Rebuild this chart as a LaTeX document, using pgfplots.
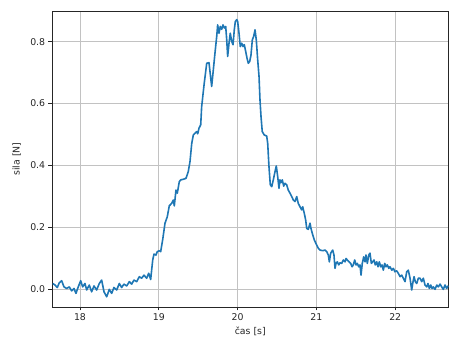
\documentclass[border=0pt]{standalone}
\usepackage{fontspec}
\setmainfont{DejaVu Sans}
\usepackage{pgfplots}
\usepackage{pgfplotstable}
\pgfplotsset{compat=1.18}
\definecolor{mplblue}{HTML}{1F77B4}
\pgfplotstableread{
x y
17.654 0.018
17.683 0.013
17.712 0.005
17.737 0.020
17.768 0.027
17.797 0.007
17.831 0.002
17.864 0.007
17.895 -0.006
17.924 0.002
17.949 -0.014
17.978 0.007
18.009 0.027
18.034 0.007
18.063 0.018
18.085 -0.003
18.118 0.013
18.148 -0.009
18.178 0.010
18.212 -0.003
18.245 0.018
18.275 0.029
18.305 -0.009
18.339 -0.025
18.372 -0.001
18.402 -0.014
18.431 0.005
18.466 -0.003
18.499 0.018
18.529 0.005
18.558 0.016
18.593 0.010
18.626 0.024
18.656 0.016
18.685 0.029
18.720 0.024
18.753 0.040
18.783 0.035
18.812 0.045
18.846 0.035
18.872 0.051
18.897 0.031
18.923 0.094
18.939 0.113
18.964 0.110
18.981 0.121
19.006 0.124
19.024 0.121
19.049 0.159
19.079 0.213
19.108 0.234
19.133 0.269
19.164 0.277
19.184 0.288
19.197 0.269
19.218 0.320
19.235 0.310
19.260 0.347
19.278 0.353
19.311 0.355
19.345 0.358
19.374 0.380
19.396 0.412
19.418 0.471
19.438 0.498
19.459 0.504
19.481 0.509
19.494 0.502
19.510 0.520
19.532 0.531
19.544 0.590
19.577 0.666
19.608 0.730
19.637 0.732
19.659 0.682
19.671 0.655
19.692 0.709
19.713 0.763
19.735 0.817
19.747 0.854
19.764 0.827
19.780 0.849
19.798 0.840
19.815 0.854
19.831 0.844
19.849 0.849
19.862 0.806
19.874 0.752
19.891 0.795
19.907 0.827
19.925 0.801
19.942 0.790
19.958 0.838
19.971 0.865
19.989 0.871
20.001 0.865
20.018 0.827
20.034 0.784
20.052 0.795
20.069 0.784
20.085 0.790
20.103 0.768
20.119 0.747
20.136 0.730
20.154 0.736
20.170 0.757
20.187 0.806
20.204 0.817
20.221 0.838
20.237 0.806
20.255 0.741
20.272 0.687
20.284 0.612
20.297 0.558
20.313 0.509
20.339 0.498
20.369 0.495
20.382 0.471
20.398 0.396
20.415 0.337
20.433 0.331
20.453 0.353
20.475 0.380
20.491 0.398
20.509 0.363
20.525 0.326
20.538 0.353
20.551 0.344
20.567 0.353
20.585 0.333
20.602 0.342
20.623 0.337
20.643 0.320
20.665 0.310
20.687 0.299
20.707 0.288
20.728 0.283
20.750 0.299
20.770 0.277
20.792 0.266
20.813 0.256
20.826 0.266
20.846 0.245
20.864 0.223
20.877 0.196
20.897 0.193
20.919 0.213
20.931 0.196
20.948 0.180
20.973 0.159
21.004 0.142
21.024 0.132
21.046 0.126
21.080 0.124
21.109 0.126
21.131 0.121
21.151 0.110
21.164 0.088
21.181 0.116
21.207 0.126
21.223 0.110
21.236 0.067
21.249 0.083
21.265 0.088
21.283 0.078
21.299 0.085
21.321 0.083
21.341 0.094
21.363 0.088
21.376 0.099
21.392 0.094
21.414 0.088
21.435 0.083
21.452 0.072
21.468 0.078
21.486 0.094
21.503 0.078
21.519 0.083
21.537 0.072
21.553 0.078
21.566 0.045
21.582 0.083
21.600 0.104
21.617 0.088
21.629 0.110
21.646 0.083
21.664 0.110
21.680 0.116
21.697 0.083
21.714 0.088
21.731 0.094
21.747 0.078
21.765 0.088
21.782 0.072
21.798 0.088
21.816 0.072
21.832 0.078
21.849 0.061
21.867 0.083
21.883 0.072
21.900 0.078
21.918 0.067
21.934 0.072
21.956 0.061
21.976 0.067
21.997 0.056
22.019 0.059
22.039 0.051
22.061 0.040
22.082 0.045
22.103 0.035
22.124 0.024
22.146 0.056
22.166 0.061
22.188 0.035
22.209 -0.003
22.222 0.018
22.239 0.040
22.255 0.024
22.273 0.018
22.293 0.035
22.315 0.035
22.336 0.024
22.357 0.035
22.378 0.013
22.400 0.007
22.416 0.018
22.433 0.002
22.451 0.013
22.467 0.002
22.484 0.007
22.505 -0.001
22.527 0.013
22.547 0.007
22.569 0.016
22.590 0.007
22.610 -0.001
22.632 0.013
22.653 0.002
22.674 0.011
}\forcedata
\begin{document}
\fontsize{9.4}{11}\selectfont
\begin{tikzpicture}
\begin{axis}[
  scale only axis, width=396.5bp, height=296bp,
  xmin=17.645, xmax=22.676, ymin=-0.058, ymax=0.899,
  xtick={18,19,20,21,22}, ytick={0,0.2,0.4,0.6,0.8},
  grid=major,
  major grid style={color=black!24, line width=0.9bp},
  axis line style={line width=0.8bp, black!85},
  tick align=outside, major tick length=3.5bp,
  tick style={line width=0.8bp, black!85},
  xtick pos=bottom, ytick pos=left,
  /pgf/number format/assume math mode=true,
  tick label style={font=\fontsize{9.4}{11}\selectfont, text=black!85},
  label style={font=\fontsize{9.4}{11}\selectfont, text=black!85},
  ylabel style={yshift=3bp},
  yticklabel style={/pgf/number format/.cd, fixed, fixed zerofill, precision=1},
  xlabel={čas [s]}, ylabel={sila [N]},
]
\addplot[color=mplblue, line width=1.6bp, line join=round] table[x=x, y=y] {\forcedata};
\coordinate (sw) at (rel axis cs:0,0);
\coordinate (ne) at (rel axis cs:1,1);
\end{axis}
\pgfresetboundingbox
\path[use as bounding box] ([xshift=-52bp,yshift=-35bp]sw) rectangle ([xshift=0.5bp,yshift=11bp]ne);
\end{tikzpicture}
\end{document}
